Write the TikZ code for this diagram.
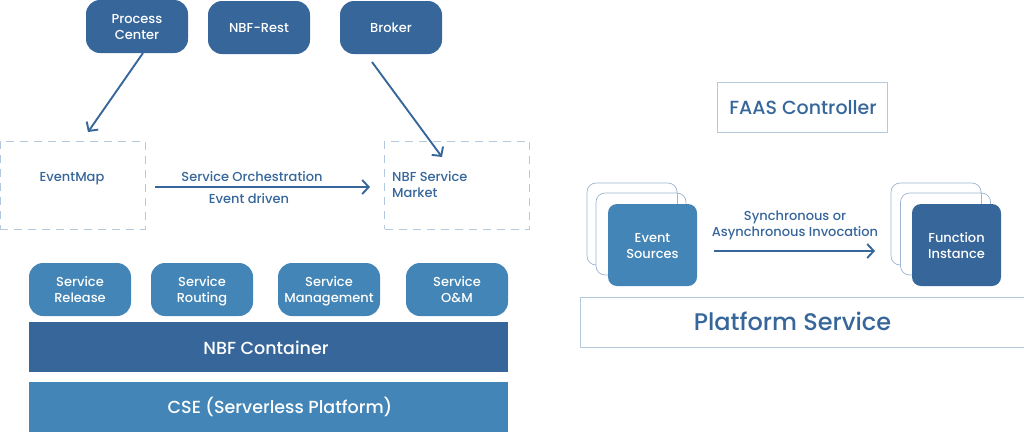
\documentclass[tikz,border=0pt]{standalone}
\usepackage{fontspec}
\setmainfont{Poppins}[UprightFont=* Medium]
\usetikzlibrary{arrows.meta}

\definecolor{navy}{HTML}{36669A}
\definecolor{steel}{HTML}{4285B6}
\definecolor{pale}{HTML}{B4C8DE}
\definecolor{frameline}{HTML}{9DB5D2}

\tikzset{
  struts/.style={execute at begin node={\rule{0pt}{1.1em}}, execute at end node={\rule[-.3em]{0pt}{0pt}}},
  twolines/.style={execute at begin node={\rule[-.5em]{0pt}{3em}}},
  roundbox/.style={struts, rounded corners=14pt, text=white, align=center, minimum width=102pt, minimum height=53pt, font=\fontsize{13}{16}\selectfont, inner sep=0pt},
  darkbox/.style={roundbox, fill=navy},
  midbox/.style={roundbox, fill=steel, twolines},
  layerbar/.style={minimum width=479pt, minimum height=50pt, inner sep=0pt},
  layertext/.style={struts, text=white, inner sep=0pt, font=\fontsize{17.5}{21}\selectfont},
  dashbox/.style={draw=pale, dash pattern=on 8pt off 6pt, line width=0.9pt, minimum width=145pt, minimum height=88pt, inner sep=0pt},
  plainbox/.style={draw=pale, line width=1pt, text=navy, inner sep=0pt},
  backcard/.style={draw=frameline, fill=white, line width=0.7pt, rounded corners=9pt, minimum width=90pt, minimum height=82pt},
  backline/.style={draw=frameline, line width=0.7pt},
  frontcard/.style={struts, twolines, rounded corners=9pt, text=white, align=center, minimum width=89pt, minimum height=82pt, inner sep=0pt, font=\fontsize{13}{16}\selectfont},
  flow/.style={-{Straight Barb[length=6.5pt,width=14pt]}, line width=1.9pt, navy},
  caption/.style={struts, text=navy, align=center, inner sep=0pt, font=\fontsize{13}{16}\selectfont}
}

\begin{document}
\begin{tikzpicture}[x=1pt, y=-1pt]
  \useasboundingbox (0,0) rectangle (1024,432);

  % Top row
  \node[darkbox, twolines] (process) at (137,26.5) {Process\\Center};
  \node[darkbox] (rest) at (259,27.5) {NBF-Rest};
  \node[darkbox] (broker) at (391,27.5) {Broker};

  % Dashed boxes
  \node[dashbox] (eventmap) at (72.5,185) {};
  \node[dashbox] (market) at (457,185) {};
  \node[caption] (eventmaptext) at (72,176) {EventMap};
  \node[caption, twolines, align=left, anchor=west] (markettext) at (392,184) {NBF Service\\Market};

  % Arrows
  \coordinate (processstart) at (143,53);
  \coordinate (processend) at (88,132);
  \coordinate (brokerstart) at (372,62);
  \coordinate (marketend) at (442,157);
  \coordinate (orchstart) at (155,187);
  \coordinate (orchend) at (370,187);
  \draw[flow] (processstart) -- (processend);
  \draw[flow] (brokerstart) -- (marketend);
  \draw[flow] (orchstart) -- (orchend);
  \node[caption] (orchtext) at (252,176) {Service Orchestration};
  \node[caption] (eventtext) at (249,198) {Event driven};

  % Services
  \node[midbox] (release) at (80,289.5) {Service\\Release};
  \node[midbox] (routing) at (202,289.5) {Service\\Routing};
  \node[midbox] (management) at (329,289.5) {Service\\Management};
  \node[midbox] (om) at (457,289.5) {Service\\O\&M};

  % Layers
  \node[layerbar, fill=navy] (container) at (268.5,347) {};
  \node[layerbar, fill=steel] (cse) at (268.5,407) {};
  \node[layertext] (containertext) at (266,347) {NBF Container};
  \node[layertext] (csetext) at (280,406) {CSE (Serverless Platform)};

  % Right side
  \node[plainbox, minimum width=170pt, minimum height=50pt] (faas) at (802,107) {};
  \node[struts, text=navy, inner sep=0pt, font=\fontsize{19}{23}\selectfont] (faastext) at (803,107) {FAAS Controller};

  \node[backcard] (eventback) at (632,224) {};
  \node[backcard] (eventmid) at (641,234) {};
  \draw[backline] (eventback.east |- eventmid.north) -- (eventback.east |- 0,204);
  \node[frontcard, fill=steel] (event) at (652.5,245) {Event\\Sources};

  \node[backcard] (funcback) at (936,224) {};
  \node[backcard] (funcmid) at (945.5,234) {};
  \draw[backline] (funcback.east |- funcmid.north) -- (funcback.east |- 0,204);
  \node[frontcard, fill=navy] (func) at (956.5,245) {Function\\Instance};

  \node[caption, twolines] (synctext) at (795,223) {Synchronous or\\Asynchronous Invocation};
  \coordinate (syncstart) at (714,251);
  \coordinate (syncend) at (875,251);
  \draw[flow] (syncstart) -- (syncend);

  \node[plainbox, minimum width=444pt, minimum height=50pt] (platform) at (802,322.5) {};
  \node[struts, text=navy, inner sep=0pt, font=\fontsize{24}{29}\selectfont] (platformtext) at (792.5,320.5) {Platform Service};
\end{tikzpicture}
\end{document}
